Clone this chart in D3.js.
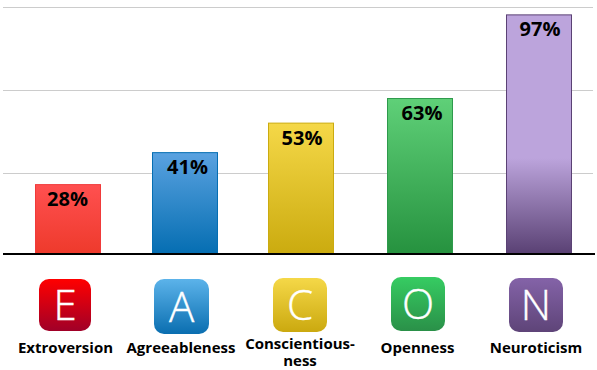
<!DOCTYPE html>
<html>
<head>
<meta charset="utf-8">
<script src="https://cdnjs.cloudflare.com/ajax/libs/d3/7.8.5/d3.min.js"></script>
<style>
  html, body { margin: 0; padding: 0; background: #fff; }
  svg { display: block; }
  text { font-family: "Open Sans", "Noto Sans", sans-serif; }
</style>
</head>
<body>
<div id="chart"></div>
<script>
// values
const traits = ["Extroversion", "Agreeableness", "Conscientiousness", "Openness", "Neuroticism"];
const letters = ["E", "A", "C", "O", "N"];
const percents = [28, 41, 53, 63, 97];
const gridTicks = [32.5, 66.3, 100];

// colours per trait: top / bottom of the bar, border, top / bottom of the icon
const barTop = ["#ff5050", "#5aa2e0", "#f5d848", "#5fd078", "#bca4dc"];
const barBottom = ["#ee3a2c", "#056eb2", "#cbab0f", "#26923f", "#5a4174"];
const barBorder = ["#f03a3a", "#056eb2", "#cbab0f", "#2e9a4c", "#5a4174"];
const iconTop = ["#ff0000", "#5cb3ea", "#f5d848", "#36cc62", "#8463a8"];
const iconBottom = ["#a00028", "#0a6eb0", "#cba90f", "#2a9048", "#5e4478"];

const width = 597, height = 370;
const baseY = 253.5;

const svg = d3.select("#chart").append("svg")
  .attr("width", width)
  .attr("height", height);

const y = d3.scaleLinear().domain([0, 100]).range([baseY, 7.5]);

// the bars and icons in the original are hand placed, so not an even band
const barX = d3.scaleOrdinal().domain(traits).range([35.5, 152.5, 268.5, 387.5, 506.5]);
const barW = 65;
const pctX = d3.scaleOrdinal().domain(traits).range([67.5, 187.5, 302, 422, 540]);
const iconX = d3.scaleOrdinal().domain(traits).range([39, 154, 273, 391, 509]);
const iconY = d3.scaleOrdinal().domain(traits).range([279, 279, 278, 277, 278]);
const iconS = d3.scaleOrdinal().domain(traits).range([52, 55, 54, 54, 54]);
const labelX = d3.scaleOrdinal().domain(traits).range([65.5, 181, 300, 417.5, 536]);

const defs = svg.append("defs");
traits.forEach((t, i) => {
  let g = defs.append("linearGradient").attr("id", "bar" + i)
    .attr("x1", 0).attr("x2", 0).attr("y1", 0).attr("y2", 1);
  g.append("stop").attr("offset", i == 4 ? "60%" : "0%").attr("stop-color", barTop[i]);
  g.append("stop").attr("offset", "100%").attr("stop-color", barBottom[i]);

  let g2 = defs.append("linearGradient").attr("id", "icon" + i)
    .attr("x1", 0).attr("x2", 0).attr("y1", 0).attr("y2", 1);
  g2.append("stop").attr("offset", "0%").attr("stop-color", iconTop[i]);
  g2.append("stop").attr("offset", "100%").attr("stop-color", iconBottom[i]);
});

// gridlines
svg.append("g")
  .selectAll("line")
  .data(gridTicks)
  .enter()
  .append("line")
    .attr("x1", 3)
    .attr("x2", 593)
    .attr("y1", d => Math.floor(y(d)) + 0.5)
    .attr("y2", d => Math.floor(y(d)) + 0.5)
    .attr("stroke", "#cccccc");

// bars
svg.append("g")
  .selectAll("rect")
  .data(traits)
  .enter()
  .append("rect")
    .attr("x", d => barX(d))
    .attr("y", (d, i) => y(percents[i]))
    .attr("width", barW)
    .attr("height", (d, i) => baseY - y(percents[i]))
    .attr("fill", (d, i) => "url(#bar" + i + ")")
    .attr("stroke", (d, i) => barBorder[i]);

// bar labels
svg.append("g")
  .selectAll("text")
  .data(traits)
  .enter()
  .append("text")
    .attr("x", d => pctX(d))
    .attr("y", (d, i) => y(percents[i]) + 21.5)
    .attr("text-anchor", "middle")
    .attr("font-size", 20)
    .attr("font-weight", 700)
    .attr("fill", "#000")
    .text((d, i) => percents[i] + "%");

// baseline
svg.append("line")
  .attr("x1", 3)
  .attr("x2", 595)
  .attr("y1", 254)
  .attr("y2", 254)
  .attr("stroke", "#000")
  .attr("stroke-width", 2);

// icons
const icons = svg.append("g")
  .selectAll("g")
  .data(traits)
  .enter()
  .append("g")
    .attr("transform", d => "translate(" + iconX(d) + "," + iconY(d) + ")");

icons.append("rect")
  .attr("width", d => iconS(d))
  .attr("height", d => iconS(d))
  .attr("rx", 10)
  .attr("fill", (d, i) => "url(#icon" + i + ")");

icons.append("text")
  .attr("x", d => iconS(d) / 2)
  .attr("y", d => iconS(d) / 2 + 15)
  .attr("text-anchor", "middle")
  .attr("font-size", 42)
  .attr("font-weight", 300)
  .attr("fill", "#fff")
  .attr("stroke", "#fff")
  .attr("stroke-width", 0.4)
  .text((d, i) => letters[i]);

// category names, conscientiousness breaks in two
svg.append("g")
  .selectAll("text")
  .data(traits)
  .enter()
  .append("text")
    .attr("x", d => labelX(d))
    .attr("y", 353)
    .attr("text-anchor", "middle")
    .attr("font-size", 15)
    .attr("font-weight", 700)
    .attr("fill", "#000")
    .each(function (d) {
      if (d == "Conscientiousness") {
        d3.select(this).append("tspan").attr("x", labelX(d)).attr("y", 349).text("Conscientious-");
        d3.select(this).append("tspan").attr("x", labelX(d)).attr("y", 365.5).text("ness");
      } else {
        d3.select(this).text(d);
      }
    });
</script>
</body>
</html>
